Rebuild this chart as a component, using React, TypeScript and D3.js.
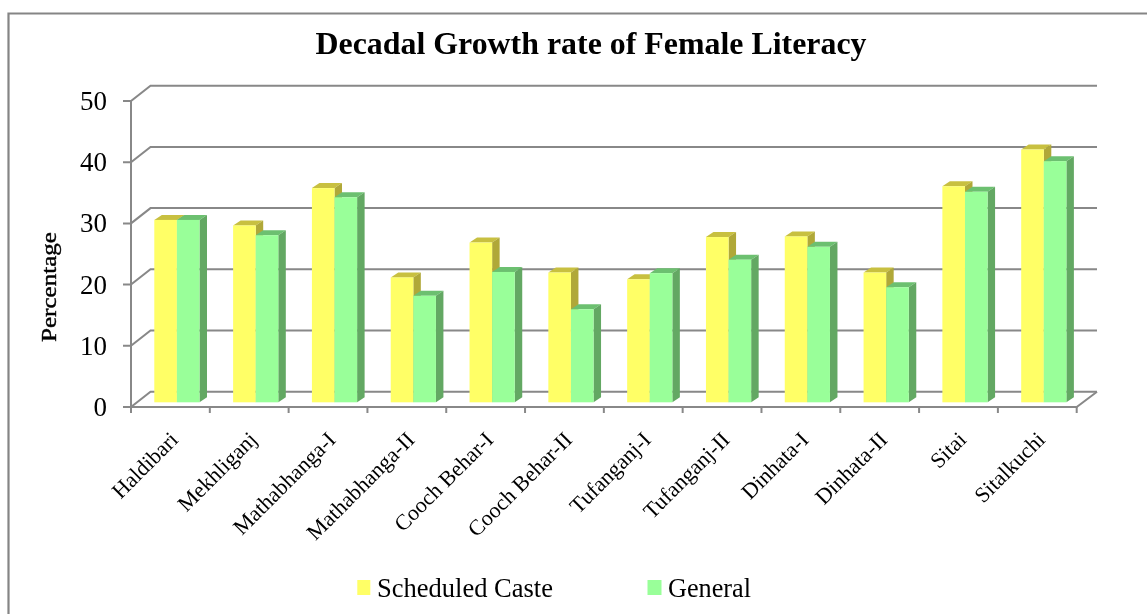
import React from "react";
import * as d3 from "d3";

const categories = ["Haldibari","Mekhliganj","Mathabhanga-I","Mathabhanga-II","Cooch Behar-I","Cooch Behar-II","Tufanganj-I","Tufanganj-II","Dinhata-I","Dinhata-II","Sitai","Sitalkuchi"];
const scheduledCaste = [29.8,28.9,35,20.4,26.1,21.2,20.1,27,27.1,21.2,35.3,41.3];
const general = [29.8,27.3,33.5,17.4,21.3,15.2,21.1,23.3,25.4,18.8,34.4,39.4];
const yTicks = [0,10,20,30,40,50];

const AXIS = "#888888";
const DX = 19.5, DY = -15.3;
const x = d3.scaleBand<string>().domain(categories).range([131, 1076.7]);
const y = d3.scaleLinear().domain([0, 50]).range([407, 101]);
const barW = 22.6, depthX = 7.5, depthY = -5, barOffX = 22.6, barBase = 402.3;
const barH = (v: number) => (y(0) - y(v));

function Bar({ x0, v, face, top, side }: { x0: number; v: number; face: string; top: string; side: string }) {
  const t = barBase - barH(v);
  const x1 = x0 + barW;
  return (
    <g>
      <polygon points={`${x0},${t} ${x0 + depthX},${t + depthY} ${x1 + depthX},${t + depthY} ${x1},${t}`} fill={top} />
      <polygon points={`${x1},${t} ${x1 + depthX},${t + depthY} ${x1 + depthX},${barBase + depthY} ${x1},${barBase}`} fill={side} />
      <rect x={x0} y={t} width={barW} height={barBase - t} fill={face} />
    </g>
  );
}

export default function App() {
  const serif = "'Liberation Serif', serif";
  return (
    <svg width={1147} height={614} style={{ position: "absolute", left: 0, top: 0, background: "#fff" }} fontFamily={serif}>
      <defs>
        <filter id="soft" x="-2%" y="-2%" width="104%" height="104%"><feGaussianBlur stdDeviation="0.45" /></filter>
      </defs>
      <g filter="url(#soft)">
        <path d="M1147,13.5 H8.5 V614" fill="none" stroke="#858585" strokeWidth={2.2} />
        <text x={591} y={54} textAnchor="middle" fontSize={32} fontWeight="bold" fill="#000" textLength={551} lengthAdjust="spacingAndGlyphs">Decadal Growth rate of Female Literacy</text>

        {yTicks.map(t => (
          <g key={t} stroke={AXIS} strokeWidth={2} fill="none">
            <path d={`M123,${y(t)} H131 L${131 + DX},${y(t) + DY} H1097`} />
          </g>
        ))}
        <path d={`M131,${y(50)} V${y(0)}`} stroke={AXIS} strokeWidth={2} />
        <path d={`M123,${y(0)} H1076.7 L1097,${y(0) + DY}`} stroke={AXIS} strokeWidth={2} fill="none" />
        {[...categories.map(c => x(c)!), 1076.7].map((px, i) => (
          <path key={i} d={`M${px},${y(0)} V${y(0) + 6}`} stroke={AXIS} strokeWidth={2} />
        ))}

        {categories.map((c, i) => {
          const x0 = x(c)! + 23.3;
          return (
            <g key={c}>
              <Bar x0={x0} v={scheduledCaste[i]} face="#ffff66" top="#c8c040" side="#b0a838" />
              <Bar x0={x0 + barOffX} v={general[i]} face="#99ff99" top="#6cc070" side="#63a863" />
            </g>
          );
        })}

        {yTicks.map(t => (
          <text key={t} x={107} y={y(t) + 9} textAnchor="end" fontSize={27} fill="#000">{t}</text>
        ))}
        <text transform="translate(56,287) rotate(-90)" textAnchor="middle" fontSize={21} fill="#000" stroke="#000" strokeWidth={0.4} textLength={110} lengthAdjust="spacingAndGlyphs">Percentage</text>

        {categories.map(c => (
          <text key={c} transform={`translate(${x(c)! + x.bandwidth() / 2 + 9},${441}) rotate(-45)`} textAnchor="end" fontSize={22} fill="#000">{c}</text>
        ))}

        <rect x={357.3} y={580} width={13} height={15} fill="#ffff66" />
        <text x={377} y={597} fontSize={27} fill="#000" textLength={176} lengthAdjust="spacingAndGlyphs">Scheduled Caste</text>
        <rect x={647.5} y={580} width={14} height={15} fill="#99ff99" />
        <text x={668} y={597} fontSize={27} fill="#000" textLength={83} lengthAdjust="spacingAndGlyphs">General</text>
      </g>
    </svg>
  );
}
